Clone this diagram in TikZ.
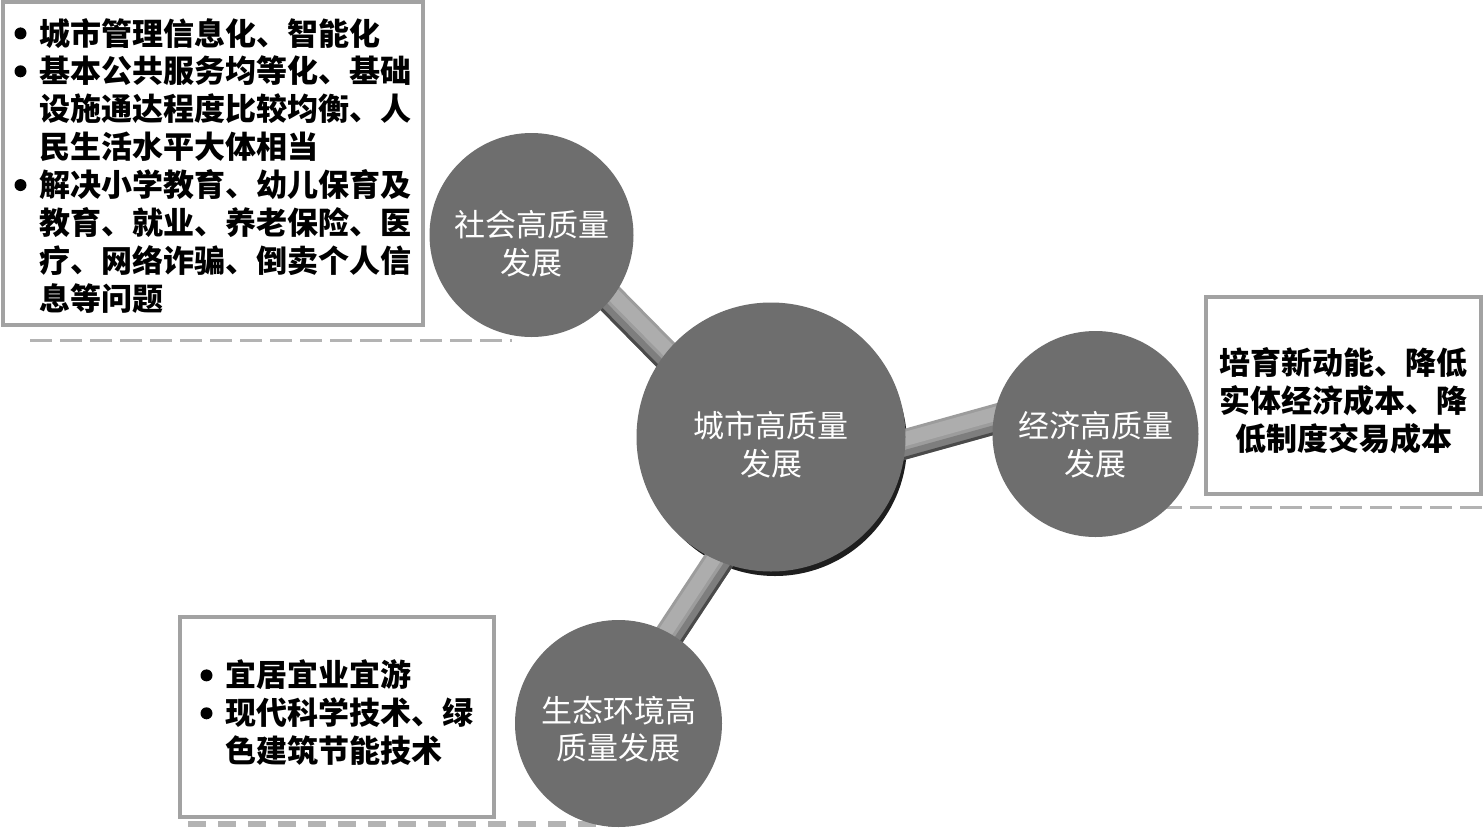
\documentclass[tikz,border=0pt]{standalone}
\usepackage{fontspec}
\newfontfamily\cjk{Noto Sans CJK SC}
\usetikzlibrary{calc}
\pgfdeclarelayer{bg}
\pgfsetlayers{bg,main}
\definecolor{circgray}{HTML}{6E6E6E}
\definecolor{boxgray}{HTML}{A2A2A2}
\definecolor{dashgray}{HTML}{B3B3B3}
\definecolor{barlight}{HTML}{ADADAD}
\definecolor{barmid}{HTML}{9C9C9C}
\definecolor{barshade}{HTML}{7E7E7E}
\definecolor{bardark}{HTML}{4A4A4A}
\definecolor{shadowc}{HTML}{1E1E1E}
\tikzset{
  circ/.style={circle, fill=circgray, text=white, inner sep=0pt, align=center,
    font=\cjk\fontsize{31}{37}\selectfont},
  infobox/.style={draw=boxgray, line width=4pt, fill=white, inner sep=0pt,
    font=\cjk\bfseries\fontsize{31}{37}\selectfont},
  sepline/.style={draw=dashgray, line width=3pt, dash pattern=on 22pt off 8pt},
}
\newcommand\lbl[2]{\raisebox{#1}[\height][\depth]{\begin{tabular}{@{}c@{}}#2\end{tabular}}}
\newcommand\lbll[2]{\raisebox{#1}[\height][\depth]{\begin{tabular}{@{}c@{\hspace{13pt}}l@{}}#2\end{tabular}}}
\newcommand\bul{\raisebox{5.6pt}{\tikz\fill[black] (0,0) circle (6pt);}}
\newcommand\linkbar[4]{%
  \draw[line width=30pt, barmid, shorten <=-16pt, shorten >=-16pt] (#1) -- (#2);
  \draw[line width=14pt, barlight, shorten <=-16pt, shorten >=-16pt]
    ($(#1)!5pt!#3:(#2)$) -- ($(#2)!5pt!#4:(#1)$);
  \draw[line width=7pt, barshade, shorten <=-16pt, shorten >=-16pt]
    ($(#1)!9pt!#4:(#2)$) -- ($(#2)!9pt!#3:(#1)$);
  \draw[line width=3pt, bardark, shorten <=-16pt, shorten >=-16pt]
    ($(#1)!13.5pt!#4:(#2)$) -- ($(#2)!13.5pt!#3:(#1)$);
}
\begin{document}
\begin{tikzpicture}[x=1pt,y=-1pt]
\path[use as bounding box] (0,0) rectangle (1484,828);
% dashed separator lines
\draw[sepline] (30,340) -- (512,340);
\draw[sepline] (1100,507) -- (1484,507);
\draw[sepline, line width=6pt, dash pattern=on 18pt off 12pt] (188,824) -- (625,824);
% circles
\node[circ, minimum size=204pt] (soc) at (531.5,235) {\lbl{-13pt}{社会高质量\\发展}};
\node[circ, minimum size=269pt] (city) at (771,437) {\lbl{-12pt}{城市高质量\\发展}};
\node[circ, minimum size=206pt] (eco) at (1095.5,434) {\lbl{-15pt}{经济高质量\\发展}};
\node[circ, minimum size=207pt] (env) at (618.5,723.5) {\lbl{-10pt}{生态环境高\\质量发展}};
% background, shadow and connectors behind
\begin{pgfonlayer}{bg}
  \fill[white] (0,0) rectangle (1484,828);
  \fill[shadowc] ($(city)+(4,7)$) circle (132pt);
  \linkbar{soc.-39}{city.142}{90}{-90}
  \linkbar{city.-3}{eco.172}{90}{-90}
  \linkbar{city.-113}{env.60}{-90}{90}
\end{pgfonlayer}
% boxes
\node[infobox, minimum width=420.5pt, minimum height=323pt] (socialbox) at (213,163)
  {\lbll{-7pt}{\bul & 城市管理信息化、智能化\\
   \bul & 基本公共服务均等化、基础\\
        & 设施通达程度比较均衡、人\\
        & 民生活水平大体相当\\
   \bul & 解决小学教育、幼儿保育及\\
        & 教育、就业、养老保险、医\\
        & 疗、网络诈骗、倒卖个人信\\
        & 息等问题}};
\node[infobox, minimum width=275.5pt, minimum height=197.5pt] (ecobox) at (1343.7,395.7)
  {\lbl{-9pt}{培育新动能、降低\\实体经济成本、降\\低制度交易成本}};
\node[infobox, minimum width=314pt, minimum height=200pt] (envbox) at (337,717)
  {\lbll{0pt}{\bul & 宜居宜业宜游\\
   \bul & 现代科学技术、绿\\
        & 色建筑节能技术}};
\end{tikzpicture}
\end{document}
